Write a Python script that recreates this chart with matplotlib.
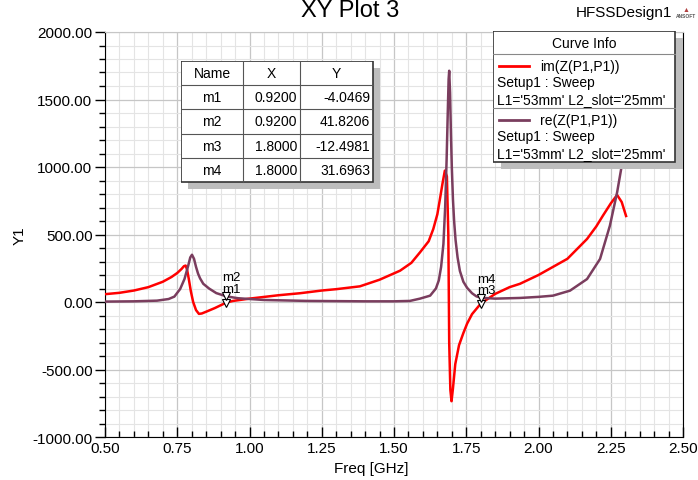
import matplotlib
matplotlib.use("Agg")
import matplotlib.pyplot as plt
from matplotlib.ticker import MultipleLocator, FormatStrFormatter
from matplotlib.patches import Rectangle

plt.rcParams['font.family'] = ['Liberation Sans', 'DejaVu Sans']

# im(Z(P1,P1)) sweep
freq_im = [0.50, 0.55, 0.60, 0.65, 0.70, 0.73, 0.75, 0.765, 0.773, 0.779, 0.784,
           0.79, 0.797, 0.805, 0.815, 0.825, 0.835, 0.85, 0.88, 0.92, 0.943,
           1.00, 1.10, 1.175, 1.25, 1.30, 1.382, 1.45, 1.521, 1.56, 1.59, 1.62,
           1.636, 1.65, 1.659, 1.668, 1.676, 1.683, 1.688, 1.691, 1.695, 1.699,
           1.704, 1.712, 1.725, 1.74, 1.753, 1.77, 1.80, 1.85, 1.90, 1.936,
           2.00, 2.05, 2.10, 2.168, 2.20, 2.223, 2.25, 2.272, 2.288, 2.303]
im_z = [58, 68, 85, 110, 150, 185, 215, 245, 265, 270, 240,
        170, 80, 0, -60, -88, -85, -72, -45, -4.0469, 8,
        25, 50, 65, 85, 95, 116, 165, 232, 290, 368, 450,
        541, 650, 763, 880, 973, 930, 500, -300, -650, -735,
        -640, -460, -320, -230, -160, -90, -12.4981, 60, 110, 135,
        200, 260, 320, 467, 560, 640, 730, 793, 740, 637]

# re(Z(P1,P1)) sweep
freq_re = [0.50, 0.60, 0.68, 0.72, 0.74, 0.76, 0.775, 0.788, 0.795, 0.801, 0.808,
           0.815, 0.822, 0.829, 0.84, 0.86, 0.885, 0.92, 0.96, 1.05, 1.20, 1.40,
           1.50, 1.555, 1.59, 1.625, 1.645, 1.655, 1.663, 1.671, 1.677, 1.682,
           1.686, 1.689, 1.691, 1.694, 1.697, 1.700, 1.704, 1.708, 1.713, 1.72,
           1.728, 1.74, 1.753, 1.77, 1.785, 1.80, 1.85, 1.936, 2.00, 2.05, 2.109,
           2.168, 2.213, 2.247, 2.272, 2.292, 2.303]
re_z = [3, 5, 10, 22, 40, 96, 170, 270, 330, 350, 320,
        260, 210, 175, 135, 100, 66, 41.8206, 28, 15, 8, 5,
        5, 8, 25, 47, 100, 160, 260, 430, 700, 1050,
        1400, 1650, 1713, 1550, 1250, 1000, 760, 600, 460, 330,
        230, 150, 105, 65, 42, 31.6963, 25, 30, 38, 47, 84,
        170, 319, 565, 812, 1059, 1300]

marker_names = ['m1', 'm2', 'm3', 'm4']
marker_x = [0.9200, 0.9200, 1.8000, 1.8000]
marker_y = [-4.0469, 41.8206, -12.4981, 31.6963]

curve_names = ['im(Z(P1,P1))', 're(Z(P1,P1))']
sweep_name = 'Setup1 : Sweep'
param_text = "L1='53mm' L2_slot='25mm'"

red = '#ff0000'
plum = '#7a3d5e'
W, H = 698, 481


def px_box(x0, y0, x1, y1):
    # figure rectangle from pixel corners (origin top-left)
    return [x0 / W, 1 - y1 / H, (x1 - x0) / W, (y1 - y0) / H]


fig = plt.figure(figsize=(W / 100, H / 100), dpi=100)
ax = fig.add_axes(px_box(105, 33, 683, 438))

ax.plot(freq_im, im_z, color=red, lw=1.8, zorder=3)
ax.plot(freq_re, re_z, color=plum, lw=1.8, zorder=3)

ax.set_xlim(0.5, 2.5)
ax.set_ylim(-1000, 2000)
ax.xaxis.set_major_locator(MultipleLocator(0.25))
ax.xaxis.set_minor_locator(MultipleLocator(0.05))
ax.yaxis.set_major_locator(MultipleLocator(500))
ax.yaxis.set_minor_locator(MultipleLocator(100))
ax.xaxis.set_major_formatter(FormatStrFormatter('%.2f'))
ax.yaxis.set_major_formatter(FormatStrFormatter('%.2f'))
ax.grid(which='major', color='#c6c6c6', lw=0.9)
ax.grid(which='minor', color='#e4e4e4', lw=0.8)
ax.set_axisbelow(True)
ax.tick_params(axis='y', which='major', direction='out', length=7, width=1, labelsize=11, pad=2)
ax.tick_params(axis='y', which='minor', direction='out', length=4, width=1)
ax.tick_params(axis='x', which='major', direction='in', length=7, width=1, labelsize=11, pad=3)
ax.tick_params(axis='x', which='minor', direction='in', length=4, width=1)
ax.spines['top'].set_color('#c6c6c6')
for side in ['left', 'bottom', 'right']:
    ax.spines[side].set_color('black')

ax.set_xlabel('Freq [GHz]', fontsize=11, labelpad=-1)
ax.xaxis.set_label_coords(0.46, -0.06)
ax.set_ylabel('Y1', fontsize=11, labelpad=4)

# markers with overlapping stacked labels
for i, (name, mx, my) in enumerate(zip(marker_names, marker_x, marker_y)):
    ax.plot(mx, my, marker='v', ms=6, mfc='white', mec='black', mew=0.8, zorder=5)
    dy = 8 if i % 2 == 0 else 13
    ax.annotate(name, (mx, my), xytext=(-4, dy), textcoords='offset pixels',
                fontsize=9.5, va='bottom', ha='left', zorder=6)

# titles
fig.text(350 / W, 1 - 11 / H, 'XY Plot 3', fontsize=17, ha='center', va='center')
fig.text(624 / W, 1 - 13 / H, 'HFSSDesign1', fontsize=11, ha='center', va='center')
fig.text(686 / W, 1 - 17 / H, 'ANSOFT', fontsize=3.5, ha='center', va='center',
         fontweight='bold', color='#555555')
fig.text(686 / W, 1 - 10 / H, '\u25b2', fontsize=5, ha='center', va='center',
         color='#b04040')

# marker table drawn in pixel space
tx0, ty0, tx1, ty1 = 181, 62, 373, 183
tab = fig.add_axes(px_box(tx0, ty0, tx1 + 8, ty1 + 8))
tab.set_xlim(tx0, tx1 + 8)
tab.set_ylim(ty1 + 8, ty0)
tab.axis('off')
tab.add_patch(Rectangle((tx0 + 7, ty0 + 7), tx1 - tx0, ty1 - ty0, color='#bdbdbd', lw=0))
tab.add_patch(Rectangle((tx0, ty0), tx1 - tx0, ty1 - ty0, fc='white', ec='#333333', lw=1.2))
col_edges = [tx0, 243, 300, tx1]
row_h = (ty1 - ty0) / 5
for cx in col_edges[1:-1]:
    tab.plot([cx, cx], [ty0, ty1], color='#555555', lw=0.8)
for r in range(1, 5):
    tab.plot([tx0, tx1], [ty0 + r * row_h] * 2, color='#555555', lw=0.8)
header = ['Name', 'X', 'Y']
for c, label in enumerate(header):
    tab.text((col_edges[c] + col_edges[c + 1]) / 2, ty0 + row_h / 2, label,
             ha='center', va='center', fontsize=10)
for r, (name, mx, my) in enumerate(zip(marker_names, marker_x, marker_y), start=1):
    yc = ty0 + (r + 0.5) * row_h
    tab.text((col_edges[0] + col_edges[1]) / 2, yc, name, ha='center', va='center', fontsize=10)
    tab.text(col_edges[2] - 3, yc, '%.4f' % mx, ha='right', va='center', fontsize=10)
    tab.text(col_edges[3] - 3, yc, '%.4f' % my, ha='right', va='center', fontsize=10)

# curve info box
lx0, ly0, lx1, ly1 = 493, 32, 675, 163
leg = fig.add_axes(px_box(lx0, ly0, lx1 + 9, ly1 + 8))
leg.set_xlim(lx0, lx1 + 9)
leg.set_ylim(ly1 + 8, ly0)
leg.axis('off')
leg.add_patch(Rectangle((lx0 + 8, ly0 + 7), lx1 - lx0, ly1 - ly0, color='#bdbdbd', lw=0))
leg.add_patch(Rectangle((lx0, ly0), lx1 - lx0, ly1 - ly0, fc='white', ec='#333333', lw=1.2))
leg.plot([lx0, lx1], [55, 55], color='#888888', lw=0.8)
leg.plot([lx0, lx1], [109, 109], color='#888888', lw=0.8)
leg.text((lx0 + lx1) / 2, 44, 'Curve Info', ha='center', va='center', fontsize=10)
for k, (name, col) in enumerate(zip(curve_names, [red, plum])):
    y = 67 + k * 54
    leg.plot([499, 529], [y, y], color=col, lw=2)
    leg.text(540, y, name, ha='left', va='center', fontsize=10)
    leg.text(497, y + 16, sweep_name, ha='left', va='center', fontsize=10)
    leg.text(497, y + 33, param_text, ha='left', va='center', fontsize=10)

fig.savefig('out.png', dpi=100)
